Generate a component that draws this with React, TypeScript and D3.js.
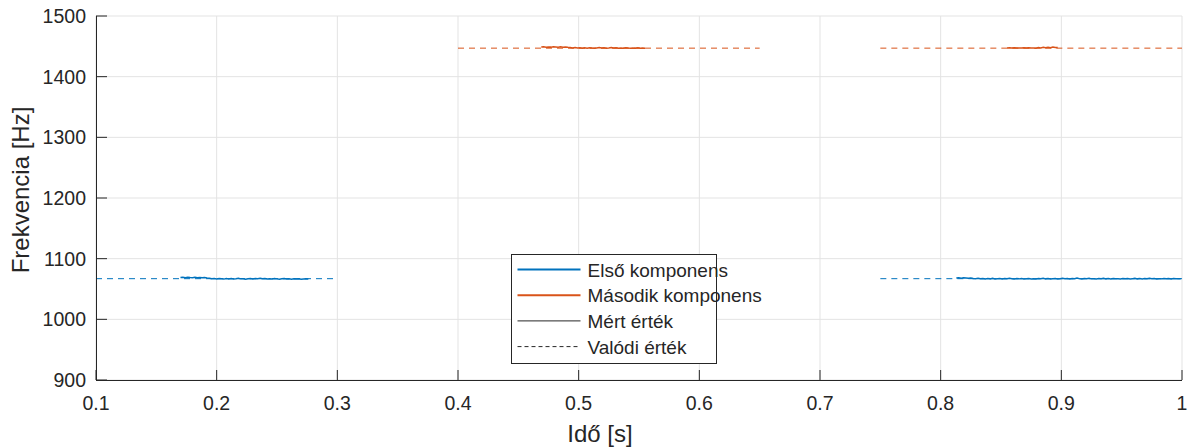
import React from "react";
import * as d3 from "d3";

const xTicks = [0.1, 0.2, 0.3, 0.4, 0.5, 0.6, 0.7, 0.8, 0.9, 1];
const xTickLabels = ["0.1", "0.2", "0.3", "0.4", "0.5", "0.6", "0.7", "0.8", "0.9", "1"];
const yTicks = [900, 1000, 1100, 1200, 1300, 1400, 1500];

const legendLabels = ["Első komponens", "Második komponens", "Mért érték", "Valódi érték"];

// true (reference) values: [tStart, tEnd, frequency]
const trueFirst = [
  [0.1, 0.3, 1067],
  [0.75, 1.0, 1067],
];
const trueSecond = [
  [0.4, 0.65, 1447],
  [0.75, 1.0, 1447],
];

// measured values, sampled every 0.002 s
const sampleStep = 0.002;
const measFirstAStart = 0.17;
const measFirstA = [
  1068.8, 1069.3, 1068.6, 1069.4, 1068.9, 1068.5, 1069.2, 1068.7, 1068.9, 1068.4, 1068.8, 1068.1,
  1067.6, 1066.9, 1067.4, 1066.5, 1067.2, 1066.8, 1066.3, 1067.1, 1066.6, 1067.3, 1066.4, 1066.9,
  1067.5, 1066.7, 1067.0, 1066.2, 1066.8, 1067.4, 1066.5, 1067.1, 1066.9, 1067.6, 1066.8, 1067.2,
  1066.4, 1067.0, 1066.6, 1067.3, 1066.7, 1066.1, 1066.9, 1067.2, 1066.5, 1066.8, 1066.2, 1067.0,
  1066.4, 1066.7, 1066.1, 1066.6, 1066.9, 1066.5,
];
const measFirstBStart = 0.813;
const measFirstB = [
  1068.2, 1068.6, 1067.9, 1068.4, 1068.1, 1067.7, 1068.3, 1067.4, 1066.8, 1067.5, 1066.9, 1067.3,
  1066.4, 1067.1, 1066.7, 1067.6, 1066.5, 1067.0, 1067.4, 1066.6, 1067.2, 1066.8, 1067.5, 1066.9,
  1066.3, 1067.1, 1066.7, 1067.3, 1066.5, 1066.9, 1067.4, 1066.6, 1067.0, 1066.4, 1067.2, 1066.8,
  1067.6, 1066.7, 1067.1, 1066.5, 1066.9, 1067.3, 1066.6, 1067.0, 1067.7, 1066.8, 1067.2, 1066.5,
  1067.4, 1066.9, 1068.0, 1067.1, 1066.6, 1067.3, 1066.8, 1067.5, 1066.7, 1067.0, 1066.4, 1067.2,
  1066.9, 1067.6, 1066.7, 1067.1, 1066.5, 1067.3, 1066.8, 1067.0, 1066.6, 1067.4, 1066.9, 1067.2,
  1066.5, 1067.0, 1067.5, 1066.7, 1067.1, 1066.6, 1067.3, 1066.8, 1067.6, 1066.9, 1067.2, 1066.5,
  1067.0, 1066.7, 1067.4, 1066.9, 1067.1, 1066.6, 1067.3, 1066.8, 1067.0, 1066.7,
];
const measSecondAStart = 0.469;
const measSecondA = [
  1448.8, 1449.2, 1448.6, 1449.0, 1448.7, 1449.3, 1448.9, 1448.5, 1449.1, 1448.6, 1448.9, 1448.3,
  1448.0, 1447.4, 1447.9, 1447.1, 1447.6, 1446.9, 1447.5, 1447.0, 1447.8, 1447.2, 1446.8, 1447.4,
  1447.9, 1447.1, 1447.6, 1446.9, 1447.3, 1448.0, 1447.2, 1447.7, 1446.9, 1447.4, 1447.0, 1447.6,
  1447.1, 1446.8, 1447.3, 1447.0, 1447.5, 1446.9, 1447.2, 1447.0,
];
const measSecondBStart = 0.855;
const measSecondB = [
  1447.3, 1447.6, 1447.2, 1447.5, 1447.1, 1447.4, 1447.2, 1447.6, 1447.3, 1447.5, 1447.1, 1447.4,
  1446.8, 1447.9, 1447.3, 1448.3, 1447.6, 1448.6, 1447.8, 1449.0, 1448.1, 1447.9,
];

const C_BLUE = "#0072BD";
const C_ORANGE = "#D95319";
const C_AXIS = "#262626";
const C_GRID = "#e3e3e3";
const FONT = "'Liberation Sans', Arial, Helvetica, sans-serif";

const margin = { left: 96, right: 1192 - 1182, top: 16, bottom: 448 - 380 };
const W = 1192;
const H = 448;

export default function App() {
  const x = d3.scaleLinear().domain([0.1, 1]).range([margin.left, W - margin.right]);
  const y = d3.scaleLinear().domain([900, 1500]).range([H - margin.bottom, margin.top]);
  const line = d3
    .line<[number, number]>()
    .x((d) => x(d[0]))
    .y((d) => y(d[1]));

  const series = (start: number, vals: number[]) =>
    vals.map((v, i) => [start + i * sampleStep, v] as [number, number]);

  const measured = [
    { pts: series(measFirstAStart, measFirstA), color: C_BLUE },
    { pts: series(measFirstBStart, measFirstB), color: C_BLUE },
    { pts: series(measSecondAStart, measSecondA), color: C_ORANGE },
    { pts: series(measSecondBStart, measSecondB), color: C_ORANGE },
  ];

  const trueLines = [
    ...trueFirst.map((s) => ({ s, color: C_BLUE })),
    ...trueSecond.map((s) => ({ s, color: C_ORANGE })),
  ];

  const x0 = margin.left;
  const x1 = W - margin.right;
  const y0 = H - margin.bottom;
  const y1 = margin.top;

  // legend
  const lgX = 511.5;
  const lgY = 254.5;
  const lgW = 205;
  const lgH = 109;
  const rowH = 25.7;

  return (
    <svg
      width={W}
      height={H}
      style={{ position: "absolute", left: 0, top: 0, background: "#fff" }}
      fontFamily={FONT}
    >
      <rect x={0} y={0} width={W} height={H} fill="#fff" />
      {/* grid */}
      {xTicks.map((t) => (
        <line key={"gx" + t} x1={x(t)} x2={x(t)} y1={y0} y2={y1} stroke={C_GRID} strokeWidth={1} />
      ))}
      {yTicks.map((t) => (
        <line key={"gy" + t} x1={x0} x2={x1} y1={y(t)} y2={y(t)} stroke={C_GRID} strokeWidth={1} />
      ))}

      {/* true values dashed */}
      {trueLines.map((d, i) => (
        <line
          key={"t" + i}
          x1={x(d.s[0])}
          x2={x(d.s[1])}
          y1={y(d.s[2])}
          y2={y(d.s[2])}
          stroke={d.color}
          strokeWidth={1}
          strokeDasharray="6,5"
        />
      ))}

      {/* measured */}
      {measured.map((m, i) => (
        <path key={"m" + i} d={line(m.pts) || ""} fill="none" stroke={m.color} strokeWidth={1.5} />
      ))}

      {/* axes */}
      <line x1={x0} x2={x1} y1={y0 + 0.5} y2={y0 + 0.5} stroke={C_AXIS} strokeWidth={1} />
      <line x1={x0 + 0.5} x2={x0 + 0.5} y1={y0} y2={y1} stroke={C_AXIS} strokeWidth={1} />
      {xTicks.map((t, i) => (
        <g key={"xt" + t}>
          <line x1={x(t)} x2={x(t)} y1={y0} y2={y0 - 10} stroke={C_AXIS} strokeWidth={1} />
          <text
            x={x(t)}
            y={410}
            textAnchor="middle"
            fontSize={19.5}
            fill={C_AXIS}
          >
            {xTickLabels[i]}
          </text>
        </g>
      ))}
      {yTicks.map((t) => (
        <g key={"yt" + t}>
          <line x1={x0} x2={x0 + 11} y1={y(t)} y2={y(t)} stroke={C_AXIS} strokeWidth={1} />
          <text x={86} y={y(t) + 7} textAnchor="end" fontSize={19.5} fill={C_AXIS}>
            {t}
          </text>
        </g>
      ))}

      {/* axis labels */}
      <text x={600} y={442} textAnchor="middle" fontSize={24} fill={C_AXIS}>
        Idő [s]
      </text>
      <text
        transform={`translate(29,${190}) rotate(-90)`}
        textAnchor="middle"
        fontSize={24}
        fill={C_AXIS}
      >
        Frekvencia [Hz]
      </text>

      {/* legend */}
      <rect x={lgX} y={lgY} width={lgW} height={lgH} fill="#fff" stroke={C_AXIS} strokeWidth={1} />
      {legendLabels.map((lab, i) => {
        const cy = lgY + 15 + i * rowH;
        const style =
          i === 0
            ? { stroke: C_BLUE, w: 2, dash: undefined }
            : i === 1
            ? { stroke: C_ORANGE, w: 2, dash: undefined }
            : i === 2
            ? { stroke: C_AXIS, w: 1, dash: undefined }
            : { stroke: C_AXIS, w: 1, dash: "4,3" };
        return (
          <g key={lab}>
            <line
              x1={lgX + 6}
              x2={lgX + 69}
              y1={cy}
              y2={cy}
              stroke={style.stroke}
              strokeWidth={style.w}
              strokeDasharray={style.dash}
            />
            <text x={lgX + 76} y={cy + 7} fontSize={19} fill={C_AXIS}>
              {lab}
            </text>
          </g>
        );
      })}
    </svg>
  );
}
